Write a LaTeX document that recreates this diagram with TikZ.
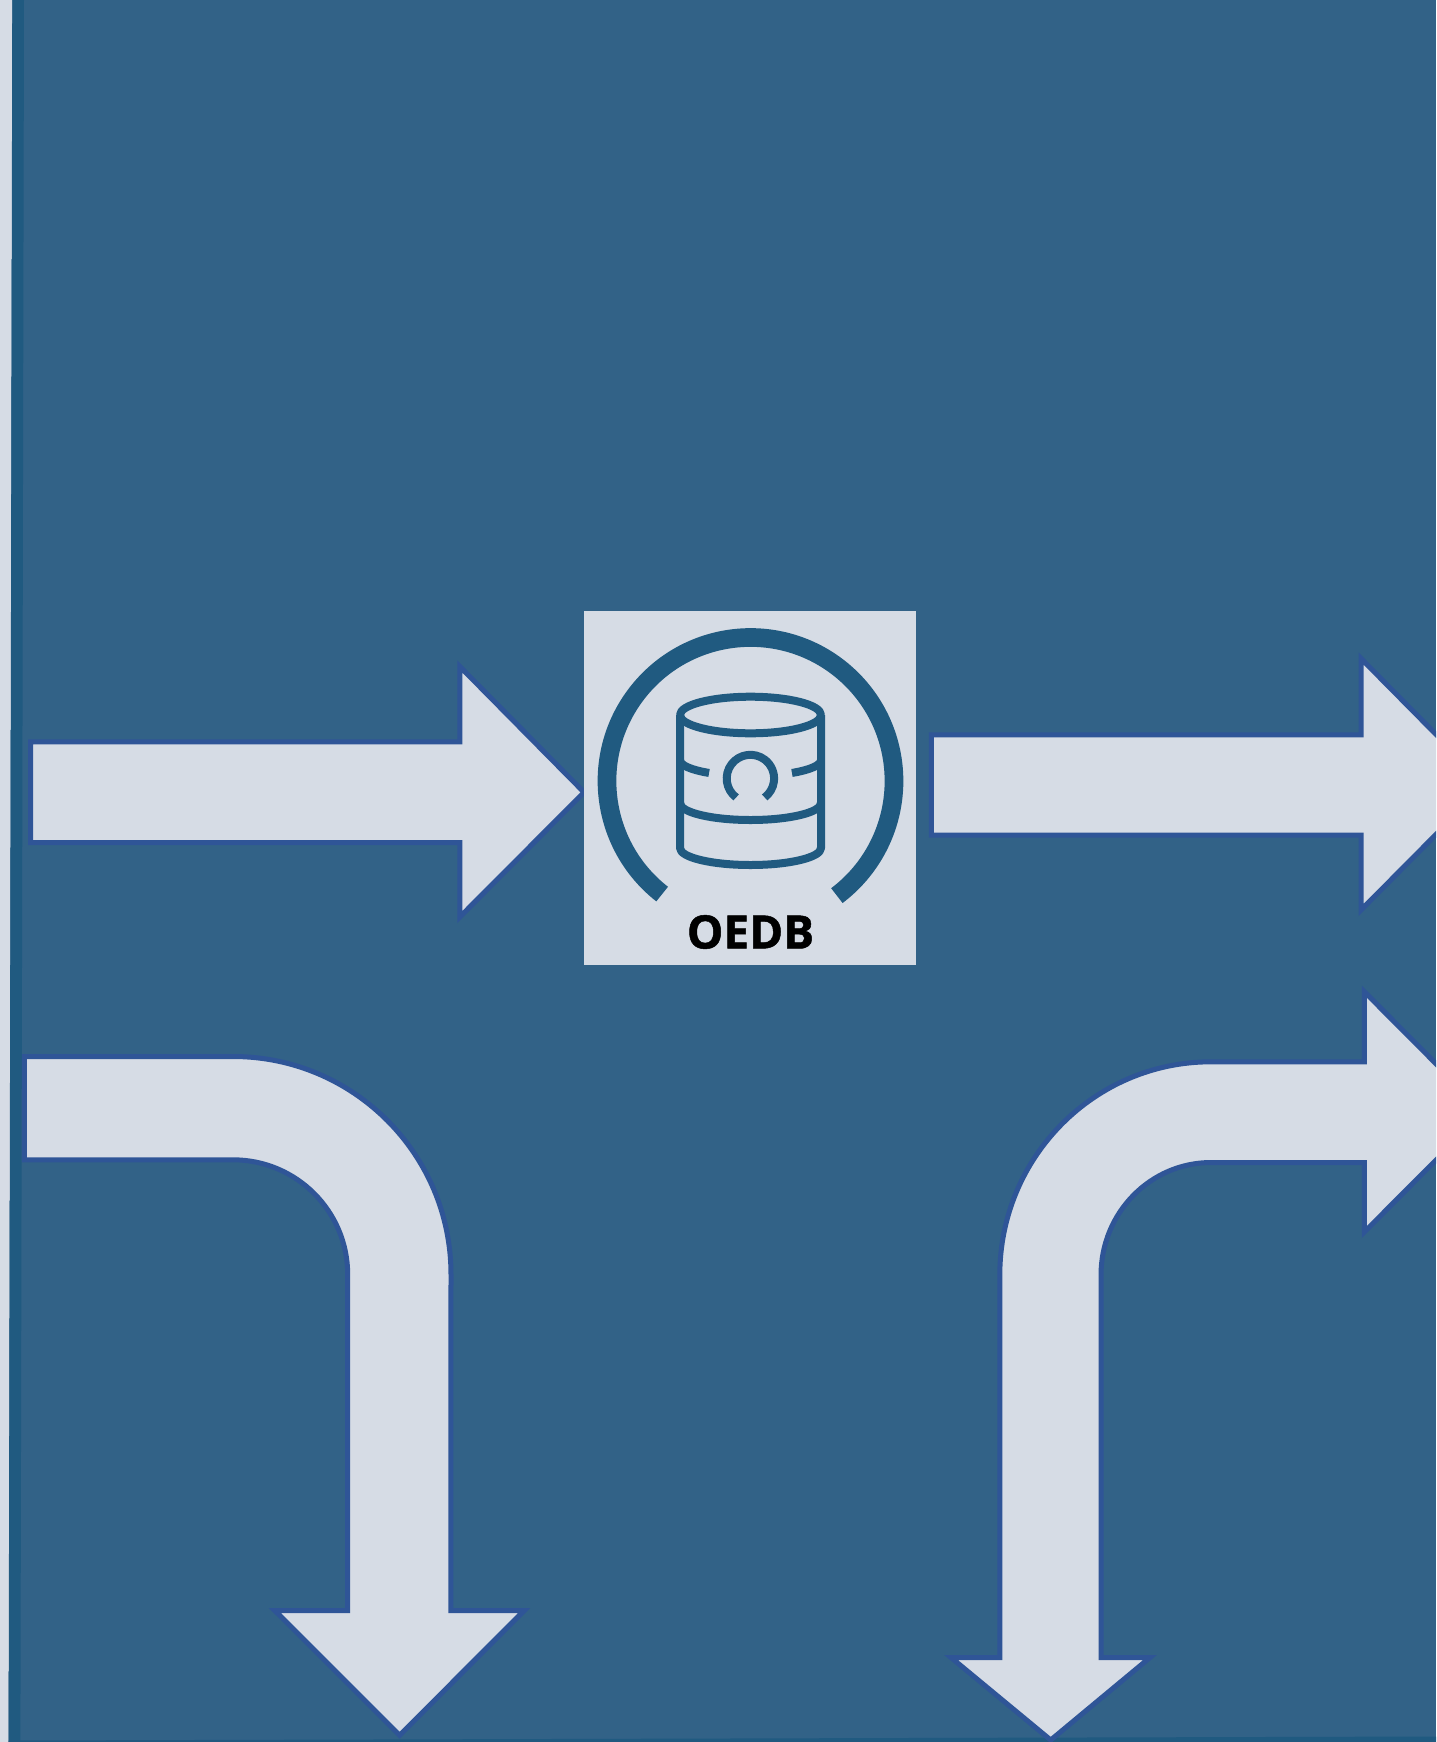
\documentclass[tikz,border=0pt]{standalone}
\usepackage{fontspec}
\setmainfont{Open Sans}
\newfontfamily\oedbfont[UprightFont=* Bold,FakeBold=1]{Open Sans}
\definecolor{bgblue}{HTML}{326287}
\definecolor{stripe}{HTML}{205A80}
\definecolor{pale}{HTML}{D6DCE5}
\definecolor{edgeblue}{HTML}{2F5597}
\tikzset{
  flow/.style={fill=pale,draw=edgeblue,line width=5pt,miter limit=10,line join=miter},
  icon/.style={draw=stripe,line width=8pt,line cap=butt,line join=round},
}
\begin{document}
\begin{tikzpicture}[x=1pt,y=-1pt]
\useasboundingbox (0,0) rectangle (1436,1742);
\clip (0,0) rectangle (1436,1742);
\fill[bgblue] (0,0) rectangle (1436,1742);
\fill[pale] (0,0) -- (12.3,0) -- (8.6,1742) -- (0,1742) -- cycle;
\fill[stripe] (12.3,0) -- (24,0) -- (20.4,1742) -- (8.6,1742) -- cycle;
\fill[stripe] (8.6,1740.5) -- (1436,1736.5) -- (1436,1742) -- (8.6,1742) -- cycle;
% straight arrows
\draw[flow] (30.5,741.8) -- (459.8,741.8) -- (459.8,666.5) -- (584,792.3) -- (459.8,917) -- (459.8,842.5) -- (30.5,842.5) -- cycle;
\draw[flow] (931.3,734.8) -- (1361,734.8) -- (1361,658.5) -- (1485.5,784.5) -- (1361,910) -- (1361,835.2) -- (931.3,835.2) -- cycle;
% bent arrows
\draw[flow] (24.3,1056.5) -- (233,1056.5) arc[start angle=-90,end angle=0,radius=218] -- (450.8,1610.7) -- (524,1610.7) -- (399.6,1735.2) -- (275,1610.7) -- (347.7,1610.7) -- (347.7,1274.5) arc[start angle=0,end angle=-90,radius=114.7] -- (24.3,1159.8) -- cycle;
\draw[flow] (999.8,1657.5) -- (951,1657.5) -- (1050.7,1740) -- (1150,1657.5) -- (1101,1657.5) -- (1101,1275) arc[start angle=180,end angle=270,x radius=110,y radius=112.5] -- (1364.3,1162.5) -- (1364.3,1232) -- (1484,1112) -- (1364.3,991.7) -- (1364.3,1061.8) -- (1211,1061.8) arc[start angle=270,end angle=180,x radius=211.2,y radius=213.2] -- cycle;
% OEDB box
\fill[pale] (584,611) rectangle (916,965);
\draw[stripe,line width=18.7pt] (750.5,781) ++(128:143.5) arc[start angle=128,end angle=413,radius=143.5];
\draw[icon] (750.4,778.5) ++(127:23.7) arc[start angle=127,end angle=413,radius=23.7];
\draw[icon] (750.5,715) ellipse[x radius=70.5,y radius=18.3];
\draw[icon] (680,715) -- (680,848) arc[start angle=180,end angle=0,x radius=70.5,y radius=17] -- (821,715);
\draw[icon] (680,803) arc[start angle=180,end angle=0,x radius=70.5,y radius=17];
\draw[icon] (680,760) arc[start angle=180,end angle=126,x radius=70.5,y radius=16];
\draw[icon] (821,760) arc[start angle=0,end angle=54,x radius=70.5,y radius=16];
\node[font=\oedbfont\fontsize{46}{46}\selectfont,text=black,inner sep=0pt] (oedb) at (750.5,932) {OEDB};
\end{tikzpicture}
\end{document}
